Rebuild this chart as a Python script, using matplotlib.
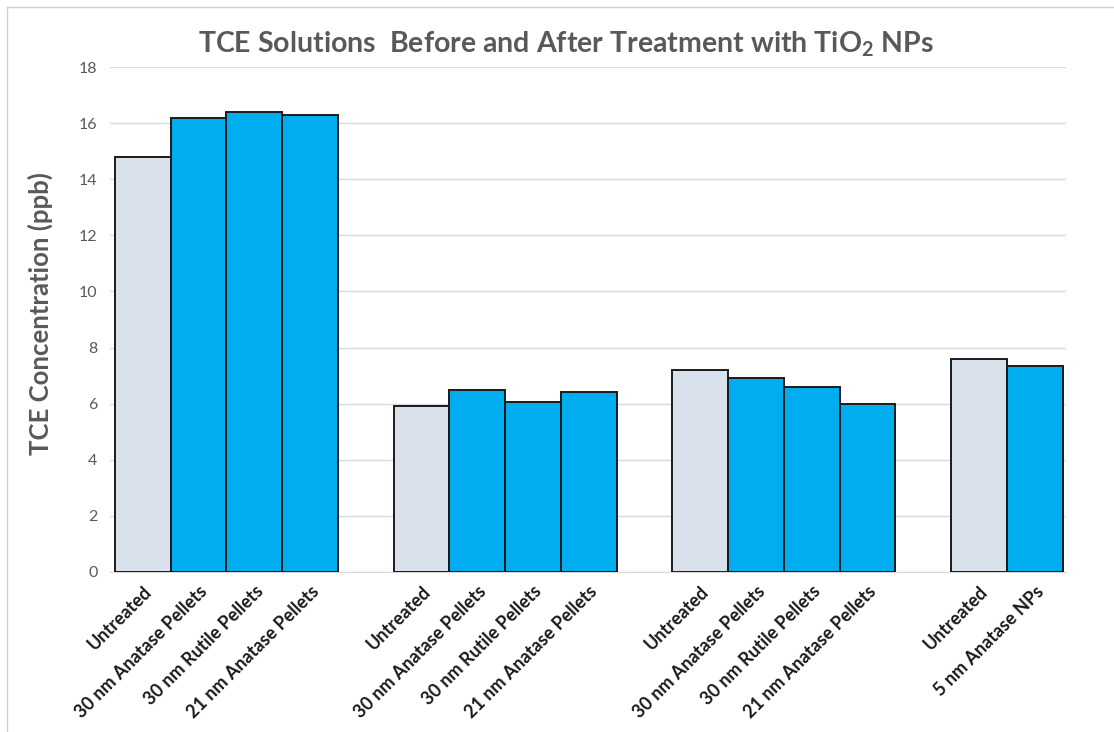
import matplotlib.pyplot as plt
from matplotlib.lines import Line2D

plt.rcParams['font.family'] = ['Lato', 'DejaVu Sans']
plt.rcParams['mathtext.fontset'] = 'custom'
plt.rcParams['mathtext.rm'] = 'Lato:bold'
plt.rcParams['mathtext.it'] = 'Lato:bold'

# TCE readings per sample set (ppb)
set1_labels = ["Untreated", "30 nm Anatase Pellets", "30 nm Rutile Pellets", "21 nm Anatase Pellets"]
set1_values = [14.8, 16.2, 16.4, 16.3]
set2_labels = ["Untreated", "30 nm Anatase Pellets", "30 nm Rutile Pellets", "21 nm Anatase Pellets"]
set2_values = [5.9, 6.5, 6.05, 6.4]
set3_labels = ["Untreated", "30 nm Anatase Pellets", "30 nm Rutile Pellets", "21 nm Anatase Pellets"]
set3_values = [7.2, 6.9, 6.6, 6.0]
set4_labels = ["Untreated", "5 nm Anatase NPs"]
set4_values = [7.6, 7.35]

sets = [(set1_labels, set1_values), (set2_labels, set2_values),
        (set3_labels, set3_values), (set4_labels, set4_values)]

fig = plt.figure(figsize=(11.14, 7.32), dpi=100)
ax = fig.add_axes([0.0987, 0.219, 0.8583, 0.689])

xpos, labels, values, colors = [], [], [], []
x = 0
for lab, val in sets:
    for l, v in zip(lab, val):
        xpos.append(x)
        labels.append(l)
        values.append(v)
        colors.append('#D9E1EC' if l == "Untreated" else '#00AEEF')
        x += 1
    x += 1  # gap between sets

ax.bar(xpos, values, width=1.0, color=colors, edgecolor='#1a1a1a', linewidth=1.4, zorder=3)

ax.set_ylim(0, 18)
ax.set_yticks(range(0, 19, 2))
ax.set_xlim(-0.59, xpos[-1] + 0.56)
ax.grid(axis='y', color='#d9d9d9', linewidth=1, zorder=0)
for s in ['top', 'right', 'left']:
    ax.spines[s].set_visible(False)
ax.spines['bottom'].set_color('#d9d9d9')
ax.tick_params(axis='y', length=0, pad=9, labelsize=11.5, labelcolor='#595959')
ax.tick_params(axis='x', length=0, pad=8)
ax.set_xticks(xpos)
ax.set_xticklabels(labels, rotation=45, ha='right', rotation_mode='anchor',
                   fontsize=13, fontweight='bold', color='#1a1a1a')

fig.text(0.508, 0.939, r"TCE Solutions  Before and After Treatment with TiO$_2$ NPs",
         ha='center', va='center', fontsize=20.5, fontweight='bold', color='#595959')
fig.text(0.036, 0.571, "TCE Concentration (ppb)", rotation=90, ha='center', va='center',
         fontsize=18.5, fontweight='bold', color='#595959')

# thin frame around the chart area
fig.add_artist(Line2D([7 / 1114, 1], [1 - 7 / 732] * 2, transform=fig.transFigure, color='#d0d0d0', lw=1))
fig.add_artist(Line2D([7 / 1114] * 2, [0, 1 - 7 / 732], transform=fig.transFigure, color='#d0d0d0', lw=1))

fig.savefig("out.png", dpi=100)
